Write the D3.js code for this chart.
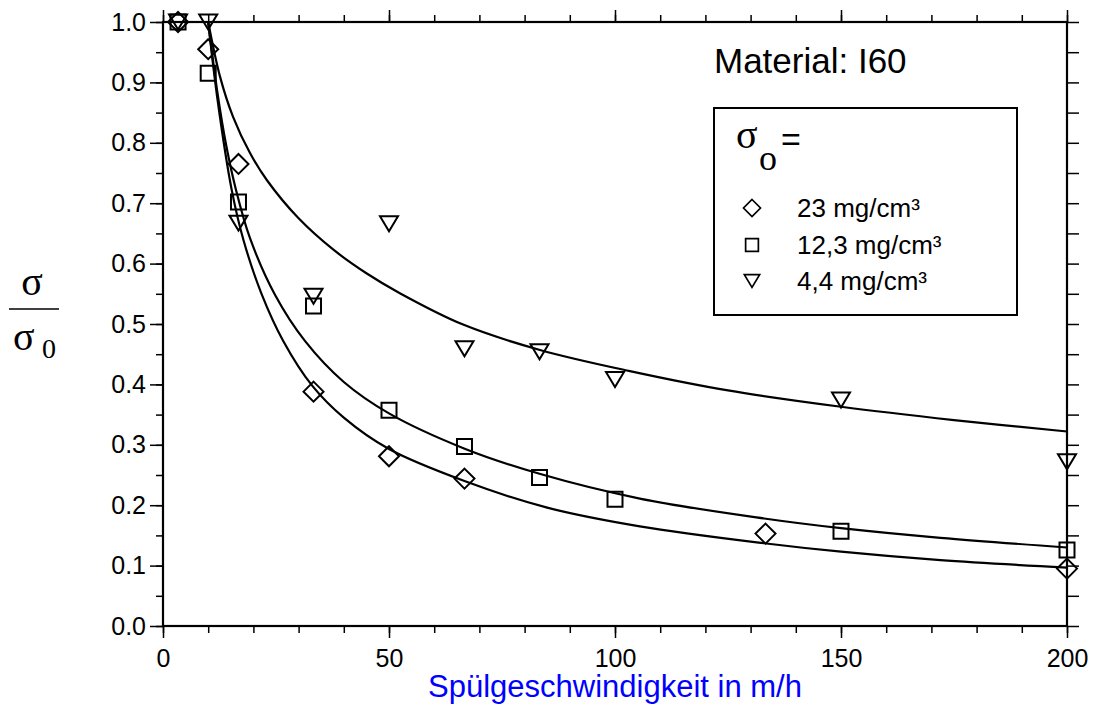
<!DOCTYPE html>
<html>
<head>
<meta charset="utf-8">
<script src="https://cdn.jsdelivr.net/npm/d3@7"></script>
<style>
  body { margin: 0; background: #fff; }
  text { font-family: "Liberation Sans", Arial, sans-serif; }
</style>
</head>
<body>
<script>
// measured points (sigma / sigma0) per initial load
const diamondX = [3.33, 10, 16.7, 33.3, 50, 66.7, 133.3, 200];
const diamondY = [1.0, 0.955, 0.765, 0.388, 0.281, 0.244, 0.153, 0.095];
const squareX = [3.33, 10, 16.7, 33.3, 50, 66.7, 83.3, 100, 150, 200];
const squareY = [1.0, 0.915, 0.702, 0.53, 0.357, 0.297, 0.246, 0.21, 0.157, 0.126];
const triX = [3.33, 10, 16.7, 33.3, 50, 66.7, 83.3, 100, 150, 200];
const triY = [1.0, 1.0, 0.667, 0.546, 0.666, 0.459, 0.454, 0.408, 0.374, 0.272];

// fitted curves
const fit23X = [10, 12, 15.2, 17.8, 21.8, 26.6, 33, 40, 50, 66.7, 85, 105.5, 133, 150, 172, 200];
const fit23Y = [1.0, 0.875, 0.722, 0.639, 0.55, 0.472, 0.398, 0.345, 0.293, 0.24, 0.196, 0.165, 0.137, 0.123, 0.109, 0.0966];
const fit12X = [10, 12, 14, 16.15, 19.25, 24.8, 31.4, 40, 50, 66.6, 83.3, 105.5, 133, 150, 172, 200];
const fit12Y = [1.0, 0.885, 0.795, 0.722, 0.642, 0.548, 0.472, 0.404, 0.352, 0.294, 0.252, 0.211, 0.178, 0.162, 0.146, 0.130];
const fit4X = [10, 12.6, 15.5, 19.25, 23, 30, 37.7, 45, 52.4, 66.4, 83.4, 103.3, 125, 150, 175, 200];
const fit4Y = [1.0, 0.91, 0.843, 0.783, 0.738, 0.675, 0.623, 0.584, 0.551, 0.499, 0.457, 0.422, 0.39, 0.363, 0.341, 0.322];

const legendLabels = ["23 mg/cm³", "12,3 mg/cm³", "4,4 mg/cm³"];
const xMajor = [0, 50, 100, 150, 200];
const xMinor = d3.range(0, 201, 10);
const yMajor = d3.range(0, 11).map(d => d / 10);
const yMinor = d3.range(0, 21).map(d => d / 20);

const width = 1096, height = 707;
const svg = d3.select('body').append('svg')
  .attr('width', width).attr('height', height);

const x = d3.scaleLinear().domain([0, 200]).range([163, 1067]);
const y = d3.scaleLinear().domain([0, 1]).range([626, 22]);

function styleAxis(g) {
  g.select('.domain').remove();
  g.selectAll('line').attr('stroke', '#000').attr('stroke-width', 1.5);
  g.selectAll('text').attr('fill', '#000').style('font-size', '25px')
    .style('font-family', '"Liberation Sans", Arial, sans-serif');
}

// left axis
svg.append('g').attr('transform', 'translate(163,0)')
  .call(d3.axisLeft(y).tickValues(yMinor).tickSize(7).tickFormat(''))
  .call(styleAxis);
svg.append('g').attr('transform', 'translate(163,0)')
  .call(d3.axisLeft(y).tickValues(yMajor).tickSize(13).tickPadding(4).tickFormat(d3.format('.1f')))
  .call(styleAxis);
// right axis
svg.append('g').attr('transform', 'translate(1067,0)')
  .call(d3.axisRight(y).tickValues(yMinor).tickSize(12).tickFormat(''))
  .call(styleAxis);
// bottom axis
svg.append('g').attr('transform', 'translate(0,626)')
  .call(d3.axisBottom(x).tickValues(xMinor).tickSize(7).tickFormat(''))
  .call(styleAxis);
svg.append('g').attr('transform', 'translate(0,626)')
  .call(d3.axisBottom(x).tickValues(xMajor).tickSize(12).tickPadding(11).tickFormat(d3.format('d')))
  .call(styleAxis);
// top axis
svg.append('g').attr('transform', 'translate(0,22)')
  .call(d3.axisTop(x).tickValues(xMinor).tickSize(7).tickFormat(''))
  .call(styleAxis);
svg.append('g').attr('transform', 'translate(0,22)')
  .call(d3.axisTop(x).tickValues(xMajor).tickSize(12).tickFormat(''))
  .call(styleAxis);

// frame
svg.append('rect')
  .attr('x', x(0)).attr('y', y(1))
  .attr('width', x(200) - x(0)).attr('height', y(0) - y(1))
  .attr('fill', 'none').attr('stroke', '#000').attr('stroke-width', 2.2);

// fitted curves
const line = d3.line().x(d => x(d[0])).y(d => y(d[1])).curve(d3.curveCatmullRom.alpha(0.5));
[[fit23X, fit23Y], [fit12X, fit12Y], [fit4X, fit4Y]].forEach(([xs, ys]) => {
  svg.append('path')
    .datum(xs.map((v, i) => [v, ys[i]]))
    .attr('d', line)
    .attr('fill', 'none').attr('stroke', '#000').attr('stroke-width', 2.2);
});

// marker shapes
const shapes = {
  diamond: 'M0,-10L10,0L0,10L-10,0Z',
  square: 'M-7.5,-7.5H7.5V7.5H-7.5Z',
  triangle: 'M-9,-7.5H9L0,7.5Z'
};

function drawPoints(xs, ys, shape) {
  svg.append('g').selectAll('path')
    .data(xs.map((v, i) => [v, ys[i]]))
    .join('path')
    .attr('d', shapes[shape])
    .attr('transform', d => `translate(${x(d[0])},${y(d[1])})`)
    .attr('fill', 'none').attr('stroke', '#000').attr('stroke-width', 2);
}
drawPoints(diamondX, diamondY, 'diamond');
drawPoints(squareX, squareY, 'square');
drawPoints(triX, triY, 'triangle');

// material label
svg.append('text').attr('x', 714).attr('y', 73)
  .style('font-size', '35px').text('Material: I60');

// legend
svg.append('rect').attr('x', 714).attr('y', 108).attr('width', 303).attr('height', 207)
  .attr('fill', '#fff').attr('stroke', '#000').attr('stroke-width', 2);
svg.append('text').attr('x', 736).attr('y', 148)
  .style('font-family', '"Liberation Serif", "Times New Roman", serif').style('font-size', '40px')
  .text('σ');
svg.append('text').attr('x', 759).attr('y', 170)
  .style('font-family', '"Liberation Serif", "Times New Roman", serif').style('font-size', '36px')
  .text('o');
svg.append('text').attr('x', 781).attr('y', 151)
  .style('font-size', '34px').text('=');

const legendShapes = ['diamond', 'square', 'triangle'];
const legendRows = [208, 245, 281];
legendLabels.forEach((lab, i) => {
  svg.append('path').attr('d', shapes[legendShapes[i]])
    .attr('transform', `translate(752,${legendRows[i]}) scale(0.85)`)
    .attr('fill', 'none').attr('stroke', '#000').attr('stroke-width', 2);
  svg.append('text').attr('x', 797).attr('y', legendRows[i] + 9)
    .style('font-size', '26px').text(lab);
});

// axis titles
svg.append('text').attr('x', x(100)).attr('y', 697)
  .attr('text-anchor', 'middle').attr('fill', '#0000ff')
  .style('font-size', '31px').text('Spülgeschwindigkeit in m/h');

const serif = '"Liberation Serif", "Times New Roman", serif';
svg.append('text').attr('x', 32).attr('y', 295).attr('text-anchor', 'middle')
  .style('font-family', serif).style('font-size', '40px').text('σ');
svg.append('line').attr('x1', 9).attr('x2', 59).attr('y1', 309).attr('y2', 309)
  .attr('stroke', '#000').attr('stroke-width', 1.5);
svg.append('text').attr('x', 13).attr('y', 350)
  .style('font-family', serif).style('font-size', '40px').text('σ');
svg.append('text').attr('x', 42).attr('y', 358)
  .style('font-family', serif).style('font-size', '28px').text('0');
</script>
</body>
</html>
